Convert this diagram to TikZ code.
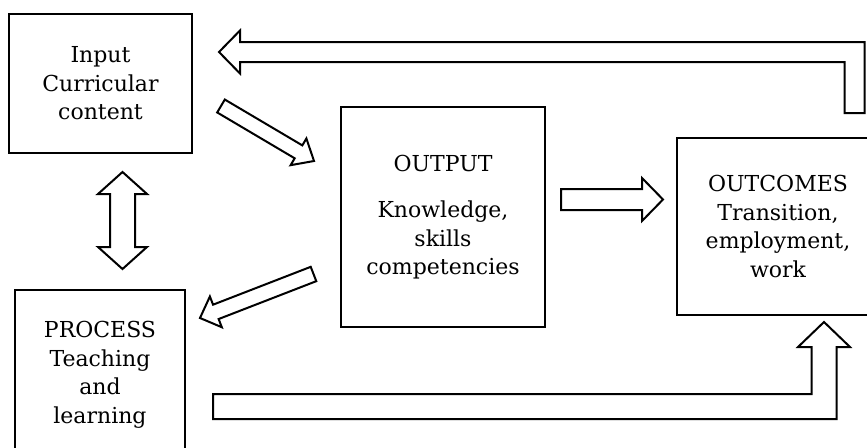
\documentclass[tikz,border=0pt]{standalone}
\usepackage{fontspec}
\setmainfont{DejaVu Serif}
\usepackage{tikz}
\usetikzlibrary{calc}

\tikzset{
  box/.style={draw, line width=2pt, rectangle, inner sep=0pt, align=center,
    font=\fontsize{22}{28.5}\selectfont},
  blockline/.style={draw, line width=2pt, line join=miter, fill=white}
}

% straight block arrow: start, tip, half shaft, half head, head length
\newcommand{\blockarrow}[5]{%
  \coordinate (ba-base) at ($(#2)!#5!(#1)$);
  \draw[blockline] ($(#1)!#3!90:(#2)$) -- ($(ba-base)!#3!-90:(#1)$)
    -- ($(ba-base)!#4!-90:(#1)$) -- (#2) -- ($(ba-base)!#4!90:(#1)$)
    -- ($(ba-base)!#3!90:(#1)$) -- ($(#1)!#3!-90:(#2)$) -- cycle;
}
% block arrow with a head at both ends
\newcommand{\twowayarrow}[5]{%
  \coordinate (ba-s) at ($(#1)!#5!(#2)$);
  \coordinate (ba-e) at ($(#2)!#5!(#1)$);
  \draw[blockline] (#1) -- ($(ba-s)!#4!90:(#2)$) -- ($(ba-s)!#3!90:(#2)$)
    -- ($(ba-e)!#3!-90:(#1)$) -- ($(ba-e)!#4!-90:(#1)$) -- (#2)
    -- ($(ba-e)!#4!90:(#1)$) -- ($(ba-e)!#3!90:(#1)$)
    -- ($(ba-s)!#3!-90:(#2)$) -- ($(ba-s)!#4!-90:(#2)$) -- cycle;
}

\begin{document}
\begin{tikzpicture}[x=1pt, y=-1pt]
        \useasboundingbox (0,0) rectangle (867,447);
        \clip (0,0) rectangle (867,447);

        \node (input) at (100.5,83.5) [box, minimum width=183pt, minimum height=139pt]
            {Input\\Curricular\\content};
        \node (output) at (443,217) [box, minimum width=204pt, minimum height=220pt]
            {OUTPUT\\[18pt]Knowledge,\\skills\\competencies};
        \node (outcomes) at (778,226.5) [box, minimum width=202pt, minimum height=177pt]
            {OUTCOMES\\Transition,\\employment,\\work};
        \node (process) at (100,375) [box, minimum width=170pt, minimum height=170pt]
            {PROCESS\\Teaching\\and\\learning};

        \coordinate (inTail) at (221,106);
        \coordinate (inTip) at (314,161);
        \coordinate (outTail) at (561,199.5);
        \coordinate (outTip) at (663,199.5);
        \coordinate (backTail) at (313.5,274);
        \coordinate (backTip) at (200,318);
        \coordinate (loopTop) at (122.5,172);
        \coordinate (loopBot) at (122.5,269);
        \coordinate (topStart) at (854.5,113);
        \coordinate (topTip) at (219,52);
        \coordinate (botStart) at (213,406.5);
        \coordinate (botTip) at (824,322);

        \blockarrow{inTail}{inTip}{7.5pt}{15.5pt}{18pt}
        \blockarrow{outTail}{outTip}{10.5pt}{21.5pt}{21pt}
        \blockarrow{backTail}{backTip}{7.7pt}{16.5pt}{17pt}
        \twowayarrow{loopTop}{loopBot}{12.5pt}{24.5pt}{22pt}

        \draw[blockline] ($(topStart)+(-10,0)$) -- ($(topStart|-topTip)+(-10,10)$)
            -- ($(topTip)+(21,10)$) -- ($(topTip)+(21,21.5)$) -- (topTip)
            -- ($(topTip)+(21,-21.5)$) -- ($(topTip)+(21,-10)$)
            -- ($(topStart|-topTip)+(10,-10)$) -- ($(topStart)+(10,0)$) -- cycle;
        \draw[blockline] ($(botStart)+(0,-12.5)$) -- ($(botTip|-botStart)+(-12.5,-12.5)$)
            -- ($(botTip)+(-12.5,25)$) -- ($(botTip)+(-26,25)$) -- (botTip)
            -- ($(botTip)+(26,25)$) -- ($(botTip)+(12.5,25)$)
            -- ($(botTip|-botStart)+(12.5,12.5)$) -- ($(botStart)+(0,12.5)$) -- cycle;
    \end{tikzpicture}
\end{document}
